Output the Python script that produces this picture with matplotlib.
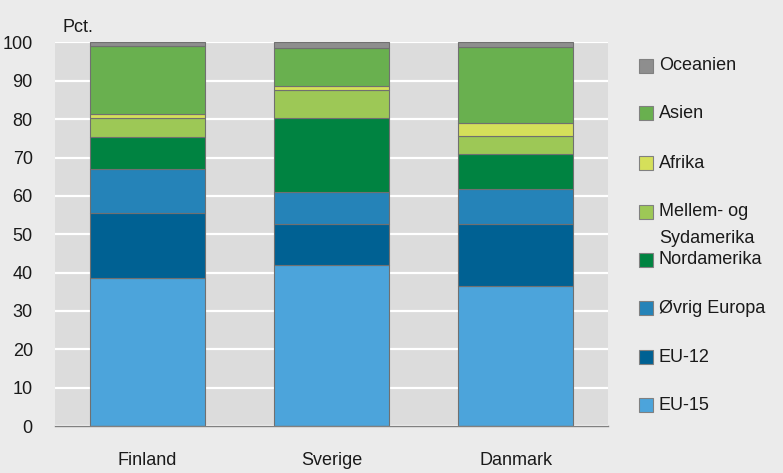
import numpy as np
import matplotlib
matplotlib.use("Agg")
import matplotlib.pyplot as plt
from matplotlib.patches import Rectangle


# ============================================================
# DATA
# ============================================================

countries = ["Finland", "Sverige", "Danmark"]

# stacked from the bottom up
series_names = [
    "EU-15",
    "EU-12",
    "Øvrig Europa",
    "Nordamerika",
    "Mellem- og\nSydamerika",
    "Afrika",
    "Asien",
    "Oceanien",
]

eu15 = [38.5, 42.0, 36.6]
eu12 = [17.1, 10.8, 16.0]
oevrig_europa = [11.5, 8.2, 9.1]
nordamerika = [8.3, 19.3, 9.2]
mellem_sydamerika = [5.0, 7.2, 4.7]
afrika = [1.0, 1.2, 3.4]
asien = [17.6, 9.9, 19.8]
oceanien = [1.0, 1.4, 1.2]

series_values = [
    eu15, eu12, oevrig_europa, nordamerika,
    mellem_sydamerika, afrika, asien, oceanien,
]

series_colors = [
    "#4ca4db", "#006193", "#2583b8", "#008341",
    "#9dc856", "#d5e05a", "#69b04f", "#8e8e8e",
]

yticks = [0, 10, 20, 30, 40, 50, 60, 70, 80, 90, 100]


# ============================================================
# FIGURE
# ============================================================

plt.rcParams["font.family"] = ["Liberation Sans", "DejaVu Sans"]
text_color = "#1a1a1a"

fig = plt.figure(figsize=(7.83, 4.73), dpi=100)
fig.patch.set_facecolor("#ebebeb")

ax = fig.add_axes([55 / 783, 47 / 473, 553 / 783, 383.5 / 473])
ax.set_facecolor("#dcdcdc")

x = np.arange(len(countries))
bottom = np.zeros(len(countries))

for values, color in zip(series_values, series_colors):
    ax.bar(
        x, values, width=0.624, bottom=bottom,
        color=color, edgecolor="#707070", linewidth=0.8, zorder=3,
    )
    bottom = bottom + np.array(values)

ax.set_xlim(-0.5, 2.5)
ax.set_ylim(0, 100)
ax.set_yticks(yticks)
ax.set_xticks(x)
ax.set_xticklabels(countries)

ax.grid(axis="y", color="white", linewidth=1.6, zorder=1)
ax.set_axisbelow(True)

for side in ["top", "right", "left"]:
    ax.spines[side].set_visible(False)
ax.spines["bottom"].set_color("#808080")
ax.spines["bottom"].set_linewidth(1.0)
ax.spines["bottom"].set_zorder(4)

ax.tick_params(axis="both", length=0, labelsize=13, colors=text_color)
ax.tick_params(axis="y", pad=16)
ax.tick_params(axis="x", pad=19)

fig.text(62 / 783, 1 - 28 / 473, "Pct.", fontsize=13,
         color=text_color, va="center", ha="left")


# ============================================================
# LEGEND (drawn by hand, top to bottom)
# ============================================================

legend_rows = [405, 357, 308, 260, 212, 163, 113, 66]  # pixel rows

for name, color, row in zip(series_names, series_colors, legend_rows):
    fig.add_artist(Rectangle(
        (639 / 783, 1 - (row + 7) / 473), 14 / 783, 14 / 473,
        facecolor=color, edgecolor="#808080", linewidth=0.8,
        transform=fig.transFigure,
    ))
    if "\n" in name:
        first, second = name.split("\n")
        fig.text(659 / 783, 1 - row / 473, first, fontsize=13,
                 color=text_color, va="center", ha="left")
        fig.text(659 / 783, 1 - (row + 26) / 473, second, fontsize=13,
                 color=text_color, va="center", ha="left")
    else:
        fig.text(659 / 783, 1 - row / 473, name, fontsize=13,
                 color=text_color, va="center", ha="left")

fig.savefig("out.png", dpi=100, facecolor=fig.get_facecolor())
